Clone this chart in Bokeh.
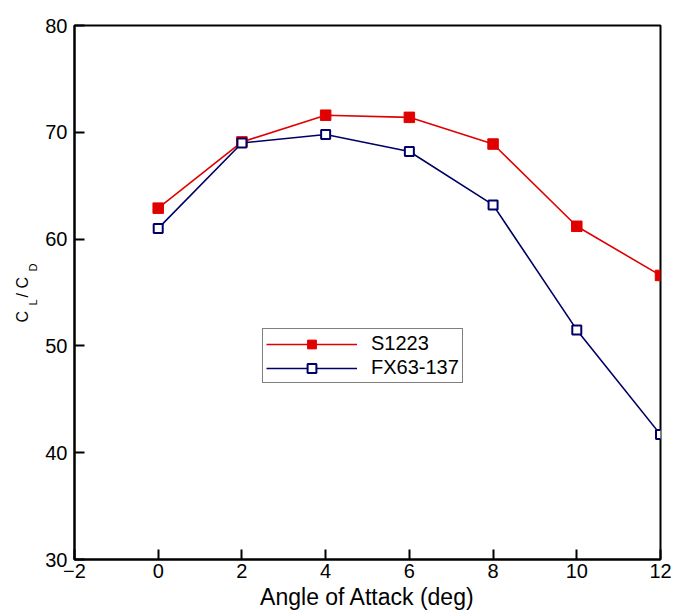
from bokeh.plotting import figure
from bokeh.layouts import row
from bokeh.models import Range1d, Legend, LegendItem, Label, FixedTicker
from bokeh.embed import file_html
from bokeh.resources import INLINE

# ---- data ----
alpha = [0, 2, 4, 6, 8, 10, 12]
s1223 = [62.9, 69.1, 71.6, 71.4, 68.9, 61.2, 56.6]
fx63_137 = [61.0, 69.0, 69.8, 68.2, 63.2, 51.5, 41.7]
x_ticks = [-2, 0, 2, 4, 6, 8, 10, 12]
y_ticks = [30, 40, 50, 60, 70, 80]
series_names = ["S1223", "FX63-137"]

FONT = "Liberation Sans"
RED = "#E00000"
NAVY = "#000066"

W, H = 682, 616
LAB_W = 40
TOP, BOTTOM = 25, 57

# ---- narrow panel holding the y-axis title C_L / C_D ----
lab = figure(width=LAB_W, height=H, output_backend="svg", toolbar_location=None,
             x_range=Range1d(0, LAB_W), y_range=Range1d(0, H - TOP - BOTTOM),
             x_axis_type=None, y_axis_type=None,
             min_border_left=0, min_border_right=0, min_border_top=TOP,
             min_border_bottom=BOTTOM)
lab.outline_line_color = None
lab.grid.visible = False
lab.background_fill_color = "white"
lab.border_fill_color = "white"
ang = 1.5707963267948966
parts = [("C", 22, 237, "16px"),
         ("L", 32, 254, "11px"),
         (" / C", 22, 262, "16px"),
         ("D", 32, 288, "11px")]
for txt, xs, ys, fs in parts:
    lab.add_layout(Label(x=xs, y=ys, x_units="screen", y_units="screen", text=txt,
                         angle=ang, text_font=FONT, text_font_size=fs,
                         text_color="black", text_align="left",
                         text_baseline="alphabetic"))

# ---- main plot ----
p = figure(width=W - LAB_W, height=H, output_backend="svg", toolbar_location=None,
           x_range=Range1d(-2, 12), y_range=Range1d(30, 80),
           min_border_left=74 - LAB_W, min_border_top=TOP, min_border_right=22,
           min_border_bottom=BOTTOM)
p.background_fill_color = "white"
p.border_fill_color = "white"
p.outline_line_color = "black"
p.outline_line_width = 2
p.xgrid.visible = False
p.ygrid.visible = False

for ax in (p.xaxis[0], p.yaxis[0]):
    ax.axis_line_width = 2
    ax.axis_line_color = "black"
    ax.major_tick_in = 10
    ax.major_tick_out = 0
    ax.major_tick_line_width = 2
    ax.minor_tick_line_color = None
    ax.major_label_text_font = FONT
    ax.major_label_text_font_size = "20px"
    ax.major_label_text_color = "black"

p.xaxis[0].ticker = FixedTicker(ticks=x_ticks)
p.yaxis[0].ticker = FixedTicker(ticks=y_ticks)
p.xaxis[0].major_label_standoff = 4
p.yaxis[0].major_label_standoff = 7
p.xaxis[0].axis_label = "Angle of Attack (deg)"
p.xaxis[0].axis_label_text_font = FONT
p.xaxis[0].axis_label_text_font_size = "23px"
p.xaxis[0].axis_label_text_font_style = "normal"
p.xaxis[0].axis_label_text_color = "black"
p.xaxis[0].axis_label_standoff = 3

# ---- series ----
l1 = p.line(alpha, s1223, line_color=RED, line_width=1.6)
m1 = p.scatter(alpha, s1223, marker="square", size=10.5, fill_color=RED, line_color=RED)
l2 = p.line(alpha, fx63_137, line_color=NAVY, line_width=1.6)
m2 = p.scatter(alpha, fx63_137, marker="square", size=9, fill_color="white",
               line_color=NAVY, line_width=2)

legend = Legend(items=[LegendItem(label=series_names[0], renderers=[l1, m1]),
                       LegendItem(label=series_names[1], renderers=[l2, m2])],
                location=(188, 176), orientation="vertical")
legend.border_line_color = "black"
legend.border_line_width = 1
legend.background_fill_color = "white"
legend.background_fill_alpha = 1
legend.label_text_font = FONT
legend.label_text_font_size = "20px"
legend.label_text_color = "black"
legend.glyph_width = 91
legend.glyph_height = 22
legend.label_height = 22
legend.label_standoff = 14
legend.padding = 3
legend.spacing = 1
legend.margin = 0
p.add_layout(legend)

layout = row(lab, p, spacing=0)
open("out.html", "w").write(file_html(layout, INLINE))
